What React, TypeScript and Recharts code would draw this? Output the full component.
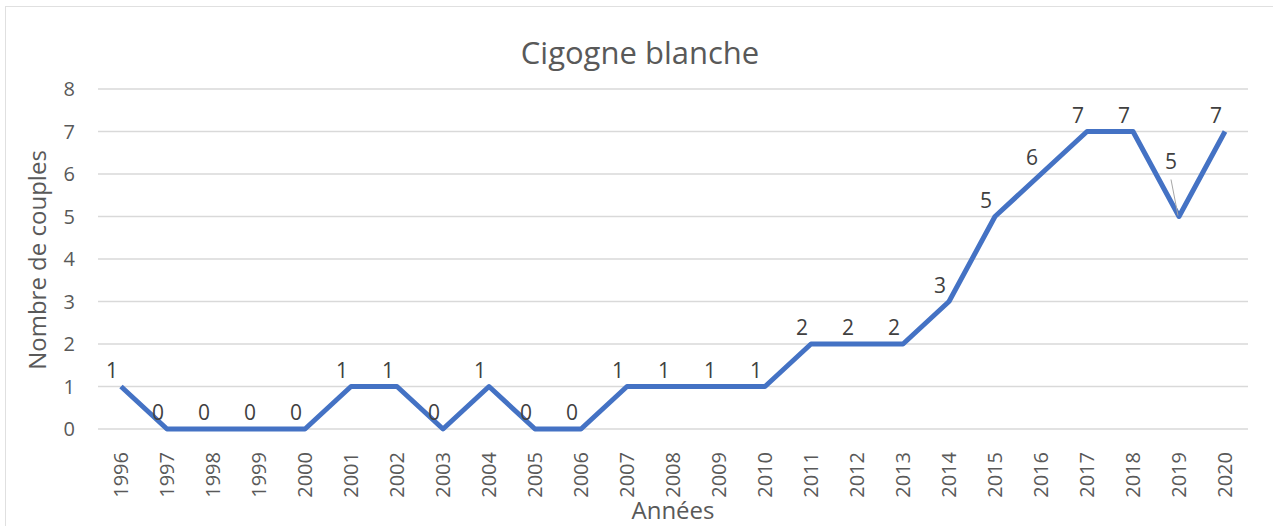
import React from "react";
import { LineChart, Line, XAxis, YAxis, CartesianGrid, LabelList, Label } from "recharts";

const years = ["1996","1997","1998","1999","2000","2001","2002","2003","2004","2005","2006","2007","2008","2009","2010","2011","2012","2013","2014","2015","2016","2017","2018","2019","2020"];
const couples = [1,0,0,0,0,1,1,0,1,0,0,1,1,1,1,2,2,2,3,5,6,7,7,5,7];
const yTicks = [0,1,2,3,4,5,6,7,8];

const data = years.map((y, i) => ({ year: y, value: couples[i] }));

const FONT = "'Open Sans', sans-serif";

const XTick = (props: any) => {
  const { x, y, payload } = props;
  return (
    <g transform={`translate(${x},${y + 7})`}>
      <text transform="rotate(-90)" x={0} y={0} dy="0.35em" textAnchor="end" fill="#595959" fontSize={20} fontFamily={FONT}>
        {payload.value}
      </text>
    </g>
  );
};

const YTick = (props: any) => {
  const { y, payload } = props;
  return (
    <text x={75} y={y} dy="0.35em" textAnchor="end" fill="#595959" fontSize={20} fontFamily={FONT}>
      {payload.value}
    </text>
  );
};

const DataLabel = (props: any) => {
  const { x, y, value, index } = props;
  if (index === 23) {
    return (
      <g>
        <line x1={x - 8} y1={y - 37} x2={x - 1} y2={y - 1} stroke="#a6a6a6" strokeWidth={1} />
        <text x={x - 8} y={y - 55} dy="0.35em" textAnchor="middle" fill="#404040" fontSize={21} fontFamily={FONT}>{value}</text>
      </g>
    );
  }
  return (
    <text x={x - 9} y={y - 16} dy="0.35em" textAnchor="middle" fill="#404040" fontSize={21} fontFamily={FONT}>{value}</text>
  );
};

export default function App() {
  return (
    <div style={{ position: "absolute", left: 0, top: 0, width: 1273, height: 526, background: "#fff" }}>
      <div style={{ position: "absolute", left: 5, top: 6, width: 1280, height: 540, borderTop: "1.5px solid #e0e0e0", borderLeft: "1.5px solid #e0e0e0" }} />
      <div style={{ position: "absolute", left: 0, top: 0 }}>
        <LineChart width={1273} height={526} data={data} margin={{ top: 89, right: 25, bottom: 0, left: 0 }}>
          <text x={640} y={52} textAnchor="middle" dominantBaseline="central" fill="#595959" fontSize={31} fontFamily={FONT}>Cigogne blanche</text>
          <CartesianGrid horizontal={true} vertical={false} stroke="#d9d9d9" strokeWidth={1.5} />
          <XAxis dataKey="year" interval={0} height={97} padding={{ left: 23, right: 23 }} tick={<XTick />} tickLine={false} axisLine={false} tickMargin={10}>
            <Label content={() => (
              <text x={673} y={509} textAnchor="middle" dominantBaseline="central" fill="#595959" fontSize={24} fontFamily={FONT}>Années</text>
            )} />
          </XAxis>
          <YAxis domain={[0, 8]} ticks={yTicks} width={98} tick={<YTick />} tickLine={false} axisLine={false}>
            <Label content={() => (
              <text x={36} y={260} transform="rotate(-90, 36, 260)" textAnchor="middle" dominantBaseline="central" fill="#595959" fontSize={24} fontFamily={FONT}>Nombre de couples</text>
            )} />
          </YAxis>
          <Line type="linear" dataKey="value" stroke="#4472C4" strokeWidth={5} dot={false} isAnimationActive={false} strokeLinejoin="round">
            <LabelList dataKey="value" content={<DataLabel />} />
          </Line>
        </LineChart>
      </div>
    </div>
  );
}
